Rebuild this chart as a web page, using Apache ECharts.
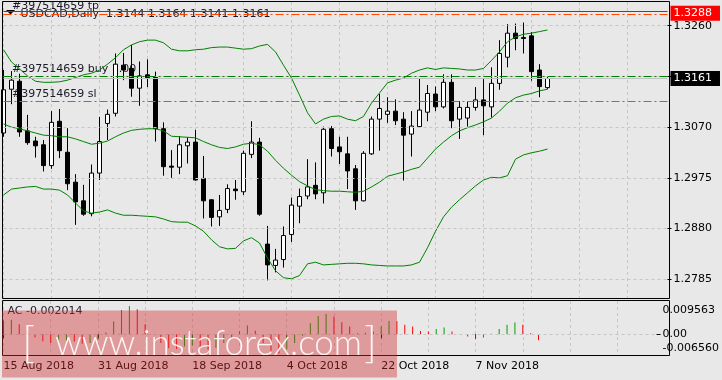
<!DOCTYPE html>
<html><head><meta charset="utf-8">
<script src="https://cdn.jsdelivr.net/npm/echarts@6/dist/echarts.min.js"></script>
<style>html,body{margin:0;padding:0;background:#e8e8e8;}#c{width:722px;height:380px;}</style>
</head><body><div id="c"></div>
<script>
const dates = ['15 Aug 2018','16 Aug 2018','17 Aug 2018','20 Aug 2018','21 Aug 2018','22 Aug 2018','23 Aug 2018','24 Aug 2018','27 Aug 2018','28 Aug 2018','29 Aug 2018','30 Aug 2018','31 Aug 2018',
'3 Sep 2018','4 Sep 2018','5 Sep 2018','6 Sep 2018','7 Sep 2018','10 Sep 2018','11 Sep 2018','12 Sep 2018','13 Sep 2018','14 Sep 2018','17 Sep 2018','18 Sep 2018','19 Sep 2018','20 Sep 2018','21 Sep 2018','24 Sep 2018','25 Sep 2018','26 Sep 2018','27 Sep 2018','28 Sep 2018',
'1 Oct 2018','2 Oct 2018','3 Oct 2018','4 Oct 2018','5 Oct 2018','8 Oct 2018','9 Oct 2018','10 Oct 2018','11 Oct 2018','12 Oct 2018','15 Oct 2018','16 Oct 2018','17 Oct 2018','18 Oct 2018','19 Oct 2018','22 Oct 2018','23 Oct 2018','24 Oct 2018','25 Oct 2018','26 Oct 2018','29 Oct 2018','30 Oct 2018','31 Oct 2018',
'1 Nov 2018','2 Nov 2018','5 Nov 2018','6 Nov 2018','7 Nov 2018','8 Nov 2018','9 Nov 2018','12 Nov 2018','13 Nov 2018','14 Nov 2018','15 Nov 2018','16 Nov 2018','19 Nov 2018'];
const emptySlots = 15;

const opens = [1.3059,1.3141,1.3156,1.3063,1.3044,1.3037,1.2998,1.3081,1.3023,1.2967,
1.2932,1.2908,1.2984,1.3077,1.3096,1.3186,1.3180,1.3143,1.3168,1.3163,
1.3067,1.2997,1.2995,1.3035,1.3042,1.2974,1.2934,1.2902,1.2916,1.2954,
1.2949,1.3019,1.3042,1.2851,1.2811,1.2822,1.2869,1.2922,1.2941,1.2961,
1.2947,1.3067,1.3033,1.3020,1.2992,1.2932,1.3020,1.3085,1.3094,1.3100,
1.3085,1.3057,1.3071,1.3098,1.3132,1.3108,1.3154,1.3085,1.3087,1.3107,
1.3121,1.3108,1.3152,1.3201,1.3246,1.3238,1.3241,1.3177,1.3144];
const closes = [1.3140,1.3158,1.3061,1.3041,1.3035,1.2998,1.3079,1.3026,1.2964,1.2930,
1.2907,1.2984,1.3043,1.3094,1.3188,1.3177,1.3143,1.3166,1.3163,1.3067,
1.2996,1.2995,1.3037,1.3042,1.2971,1.2932,1.2901,1.2914,1.2955,1.2951,
1.3021,1.3042,1.2907,1.2812,1.2821,1.2867,1.2924,1.2940,1.2958,1.2945,
1.3066,1.3030,1.3024,1.2988,1.2932,1.3021,1.3085,1.3105,1.3100,1.3082,
1.3055,1.3072,1.3102,1.3133,1.3108,1.3154,1.3082,1.3107,1.3107,1.3121,
1.3110,1.3152,1.3208,1.3246,1.3236,1.3236,1.3174,1.3146,1.3161];
const lows = [1.3052,1.3113,1.3052,1.3037,1.3013,1.2987,1.2992,1.3012,1.2952,1.2887,
1.2904,1.2903,1.2971,1.3046,1.3090,1.3158,1.3127,1.3110,1.3145,1.3043,
1.2979,1.2975,1.2982,1.3002,1.2970,1.2899,1.2884,1.2885,1.2909,1.2934,
1.2943,1.3012,1.2904,1.2783,1.2798,1.2807,1.2855,1.2890,1.2935,1.2935,
1.2927,1.3015,1.3001,1.2954,1.2915,1.2931,1.3018,1.3026,1.3078,1.3074,
1.2970,1.3015,1.3069,1.3081,1.3100,1.3105,1.3068,1.3048,1.3071,1.3101,
1.3055,1.3088,1.3140,1.3182,1.3214,1.3208,1.3157,1.3126,1.3141];
const highs = [1.3177,1.3175,1.3170,1.3093,1.3052,1.3046,1.3100,1.3104,1.3068,1.2982,
1.2962,1.3000,1.3089,1.3103,1.3208,1.3209,1.3224,1.3193,1.3197,1.3174,
1.3079,1.3027,1.3053,1.3051,1.3065,1.3016,1.2935,1.2943,1.2963,1.2971,
1.3026,1.3081,1.3050,1.2885,1.2842,1.2884,1.2938,1.2955,1.3010,1.3004,
1.3071,1.3072,1.3052,1.3052,1.2999,1.3025,1.3090,1.3132,1.3126,1.3122,
1.3098,1.3100,1.3161,1.3149,1.3146,1.3169,1.3169,1.3119,1.3118,1.3145,
1.3160,1.3182,1.3233,1.3263,1.3264,1.3266,1.3248,1.3188,1.3164];

const bbUpper = [1.3215,1.3192,1.3179,1.3166,1.3156,1.3154,1.3154,1.3155,1.3158,1.3163,
1.3168,1.3171,1.3177,1.3188,1.3200,1.3215,1.3224,1.3230,1.3233,1.3233,
1.3228,1.3216,1.3213,1.3213,1.3215,1.3216,1.3219,1.3220,1.3220,1.3218,
1.3216,1.3217,1.3222,1.3225,1.3211,1.3186,1.3162,1.3130,1.3097,1.3076,
1.3085,1.3090,1.3091,1.3085,1.3082,1.3090,1.3115,1.3134,1.3153,1.3158,
1.3162,1.3171,1.3177,1.3181,1.3178,1.3181,1.3180,1.3179,1.3177,1.3177,
1.3180,1.3195,1.3211,1.3230,1.3239,1.3244,1.3246,1.3249,1.3252];
const bbMiddle = [1.3076,1.3070,1.3067,1.3063,1.3059,1.3055,1.3054,1.3052,1.3052,1.3048,
1.3043,1.3038,1.3040,1.3044,1.3052,1.3059,1.3064,1.3066,1.3067,1.3067,
1.3063,1.3053,1.3052,1.3051,1.3050,1.3043,1.3037,1.3032,1.3030,1.3033,
1.3038,1.3040,1.3037,1.3025,1.3008,1.2993,1.2980,1.2968,1.2960,1.2953,
1.2951,1.2950,1.2950,1.2949,1.2948,1.2950,1.2958,1.2967,1.2978,1.2982,
1.2986,1.2991,1.2995,1.3012,1.3029,1.3042,1.3054,1.3063,1.3069,1.3074,
1.3080,1.3087,1.3100,1.3115,1.3125,1.3130,1.3133,1.3138,1.3141];
const bbLower = [1.2943,1.2954,1.2956,1.2958,1.2959,1.2954,1.2954,1.2952,1.2943,1.2928,
1.2913,1.2909,1.2911,1.2915,1.2909,1.2905,1.2905,1.2904,1.2903,1.2902,
1.2898,1.2893,1.2892,1.2892,1.2885,1.2875,1.2859,1.2846,1.2842,1.2843,
1.2857,1.2863,1.2853,1.2825,1.2801,1.2788,1.2786,1.2792,1.2814,1.2817,
1.2812,1.2813,1.2814,1.2815,1.2815,1.2814,1.2812,1.2811,1.2810,1.2810,
1.2810,1.2812,1.2817,1.2844,1.2875,1.2902,1.2920,1.2934,1.2947,1.2960,
1.2971,1.2976,1.2975,1.2979,1.3010,1.3018,1.3022,1.3025,1.3029];

const acValues = [0.0047,0.0049,0.0034,0.0012,-0.0010,-0.0024,-0.0030,-0.0028,-0.0022,-0.0025,
-0.0032,-0.0030,-0.0018,0.0006,0.0043,0.0082,0.009563,0.0085,0.0034,0.0000,
-0.0030,-0.0048,-0.0050,-0.0042,-0.0038,-0.0045,-0.0052,-0.0046,-0.0030,-0.0012,
0.0010,0.0030,0.0012,-0.0030,-0.0056,-0.00656,-0.0050,-0.0030,-0.0005,0.0037,
0.0062,0.0069,0.0060,0.0041,0.0026,0.0003,0.0005,0.0009,0.0026,0.0045,
0.0044,0.0032,0.0026,0.0011,0.0009,0.0018,0.0023,0.0009,-0.0001,-0.0008,
-0.0016,-0.0011,0.0002,0.0018,0.0032,0.0040,0.0032,0.0003,-0.002014];
const acBefore = 0.0052;

const priceTicks = [1.2785,1.2880,1.2975,1.3070,1.3165,1.3260];
const acTicks = [-0.00656,0,0.009563];
const acTickLabels = ['-0.006560','0.00','0.009563'];

const alertLevel = 1.3288;
const tpLevel = 1.3281;
const buyLevel = 1.3165;
const bidLevel = 1.3161;
const slLevel = 1.3119;
const orderId = '#397514659';
const titleText = 'USDCAD,Daily  1.3144 1.3164 1.3141 1.3161';
const acTitle = 'AC -0.002014';

const FONT = 'DejaVu Sans';
const cats = dates.concat(new Array(emptySlots).fill(''));
const candleData = opens.map((o,i)=>[o, closes[i], lows[i], highs[i]]);
const acData = acValues.map((v,i)=>{
  const prev = i === 0 ? acBefore : acValues[i-1];
  return {value: v, itemStyle: {color: v > prev ? '#00a000' : '#ff0000'}};
});
const dashDot = [8,3,2,3];
const gridDash = [3,3];
const gridColor = '#c6c6c6';

const chart = echarts.init(document.getElementById('c'), null, {renderer:'canvas'});
const labelShow = (i, v) => v !== '' && i % 12 === 0;

chart.setOption({
  animation: false,
  backgroundColor: '#e8e8e8',
  textStyle: {fontFamily: FONT},
  grid: [
    {left: 3.5, top: 2, width: 664, height: 296, show: false},
    {left: 3.5, top: 301, width: 664, height: 55, show: false}
  ],
  xAxis: [
    {type:'category', gridIndex:0, data: cats, boundaryGap:false,
     axisLine:{show:false}, axisTick:{show:false}, axisLabel:{show:false},
     splitLine:{show:true, interval:5, lineStyle:{color:gridColor, type:gridDash, width:1}}},
    {type:'category', gridIndex:1, data: cats, boundaryGap:false,
     axisLine:{show:false},
     axisTick:{show:true, interval: labelShow, length:4, lineStyle:{color:'#000'}},
     axisLabel:{show:true, interval: labelShow, align:'left', margin:5, color:'#000', fontSize:11, fontFamily:FONT},
     splitLine:{show:true, interval:5, lineStyle:{color:gridColor, type:gridDash, width:1}}}
  ],
  yAxis: [
    {type:'value', gridIndex:0, position:'right', min:1.2750, max:1.33044, scale:true,
     splitLine:{show:false}, axisLine:{show:false},
     axisTick:{show:true, customValues: priceTicks, length:4, lineStyle:{color:'#000'}},
     axisLabel:{show:true, customValues: priceTicks, margin:6, color:'#000', fontSize:11, fontFamily:FONT,
       formatter: v => v.toFixed(4)}},
    {type:'value', gridIndex:1, position:'right', min:-0.0074, max:0.0113,
     splitLine:{show:false}, axisLine:{show:false},
     axisTick:{show:true, customValues:[0], length:4, lineStyle:{color:'#000'}},
     axisLabel:{show:true, customValues: acTicks, margin:6, color:'#000', fontSize:11, fontFamily:FONT,
       formatter: v => {
         let k = 0, best = 1e9;
         acTicks.forEach((t,j)=>{ if (Math.abs(t-v) < best) { best = Math.abs(t-v); k = j; } });
         if (acTicks[k] > 0) return '{t|' + acTickLabels[k] + '}';
         if (acTicks[k] < 0) return '{b|' + acTickLabels[k] + '}';
         return acTickLabels[k];
       },
       rich: {t:{padding:[9,0,0,0], fontSize:11, fontFamily:FONT, color:'#000'},
              b:{padding:[0,0,10,0], fontSize:11, fontFamily:FONT, color:'#000'}}}}
  ],
  series: [
    {type:'line', name:'grid', xAxisIndex:0, yAxisIndex:0, data:[], z:1, silent:true,
     markLine:{symbol:'none', silent:true, animation:false, precision:6, label:{show:false},
       lineStyle:{color:gridColor, type:gridDash, width:1},
       data: priceTicks.map(t=>({yAxis:t}))}},
    {type:'line', name:'levels', xAxisIndex:0, yAxisIndex:0, data:[], z:1, silent:true,
     markLine:{symbol:'none', silent:true, animation:false, precision:6,
       data:[
         {yAxis: tpLevel, lineStyle:{color:'#ff4500', type:dashDot, width:1}, label:{show:false}},
         {yAxis: buyLevel, lineStyle:{color:'#008000', type:dashDot, width:1}, label:{show:false}},
         {yAxis: slLevel, lineStyle:{color:'#ff4500', type:dashDot, width:1}, label:{show:false}},
         {yAxis: bidLevel, lineStyle:{color:'#c0c0c0', type:'solid', width:1},
          label:{show:true, position:'end', distance:3, formatter: bidLevel.toFixed(4),
            backgroundColor:'#000', color:'#fff', fontSize:11, fontFamily:FONT, lineHeight:12, padding:[2,8,1,3]}},
         {yAxis: alertLevel, lineStyle:{color:'#ff0000', type:'solid', width:1},
          label:{show:true, position:'end', distance:3, offset:[0,2.5], formatter: alertLevel.toFixed(4),
            backgroundColor:'#ff0000', color:'#fff', fontSize:11, fontFamily:FONT, lineHeight:12, padding:[2,8,1,3]}}
       ]}},
    {type:'candlestick', name:'USDCAD', xAxisIndex:0, yAxisIndex:0, data:candleData, barWidth:5, z:2,
     itemStyle:{color:'#ffffff', color0:'#000000', borderColor:'#000000', borderColor0:'#000000', borderWidth:1}},
    {type:'line', name:'BB upper', xAxisIndex:0, yAxisIndex:0, data:bbUpper, symbol:'none', z:3,
     lineStyle:{color:'#008000', width:1}},
    {type:'line', name:'BB middle', xAxisIndex:0, yAxisIndex:0, data:bbMiddle, symbol:'none', z:3,
     lineStyle:{color:'#008000', width:1}},
    {type:'line', name:'BB lower', xAxisIndex:0, yAxisIndex:0, data:bbLower, symbol:'none', z:3,
     lineStyle:{color:'#008000', width:1}},
    {type:'bar', name:'AC', xAxisIndex:1, yAxisIndex:1, data:acData, barWidth:1, z:2,
     markLine:{symbol:'none', silent:true, animation:false, precision:6, label:{show:false},
       lineStyle:{color:gridColor, type:gridDash, width:1}, data:[{yAxis:0}]}}
  ],
  graphic: [
    {type:'rect', z:50, shape:{x:2.5, y:1.5, width:667, height:297}, style:{fill:null, stroke:'#000', lineWidth:1}},
    {type:'rect', z:50, shape:{x:2.5, y:300.5, width:667, height:55}, style:{fill:null, stroke:'#000', lineWidth:1}},
    {type:'text', z:0, x:12, y:6, style:{text: orderId + ' tp', font:'11px "DejaVu Sans"', fill:'#1a1a2a', verticalAlign:'middle'}},
    {type:'text', z:0, x:20.5, y:14.5, style:{text: titleText, font:'11px "DejaVu Sans"', fill:'#1a1a2a', verticalAlign:'middle'}},
    {type:'polygon', z:0, shape:{points:[[6,10],[15,10],[10.5,14.5]]}, style:{fill:'#000'}},
    {type:'text', z:0, x:12, y:69.5, style:{text: orderId + ' buy 1.00', font:'11px "DejaVu Sans"', fill:'#1a1a2a', verticalAlign:'middle'}},
    {type:'text', z:0, x:12, y:94, style:{text: orderId + ' sl', font:'11px "DejaVu Sans"', fill:'#1a1a2a', verticalAlign:'middle'}},
    {type:'text', z:0, x:7.5, y:311.5, style:{text: acTitle, font:'11px "DejaVu Sans"', fill:'#1a1a2a', verticalAlign:'middle'}},
    {type:'rect', z:80, shape:{x:2, y:310.5, width:395, height:67}, style:{fill:'rgba(210,45,50,0.42)'}},
    {type:'text', z:81, x:22, y:344, style:{text:'[', font:'300 44px Lato', fill:'rgba(255,255,255,0.9)', verticalAlign:'middle'}},
    {type:'text', z:81, x:55, y:344, style:{text:'www.instaforex.com', font:'300 35px Lato', fill:'rgba(255,255,255,0.9)', verticalAlign:'middle'}},
    {type:'text', z:81, x:364, y:344, style:{text:']', font:'300 44px Lato', fill:'rgba(255,255,255,0.9)', verticalAlign:'middle'}}
  ]
});
</script></body></html>
